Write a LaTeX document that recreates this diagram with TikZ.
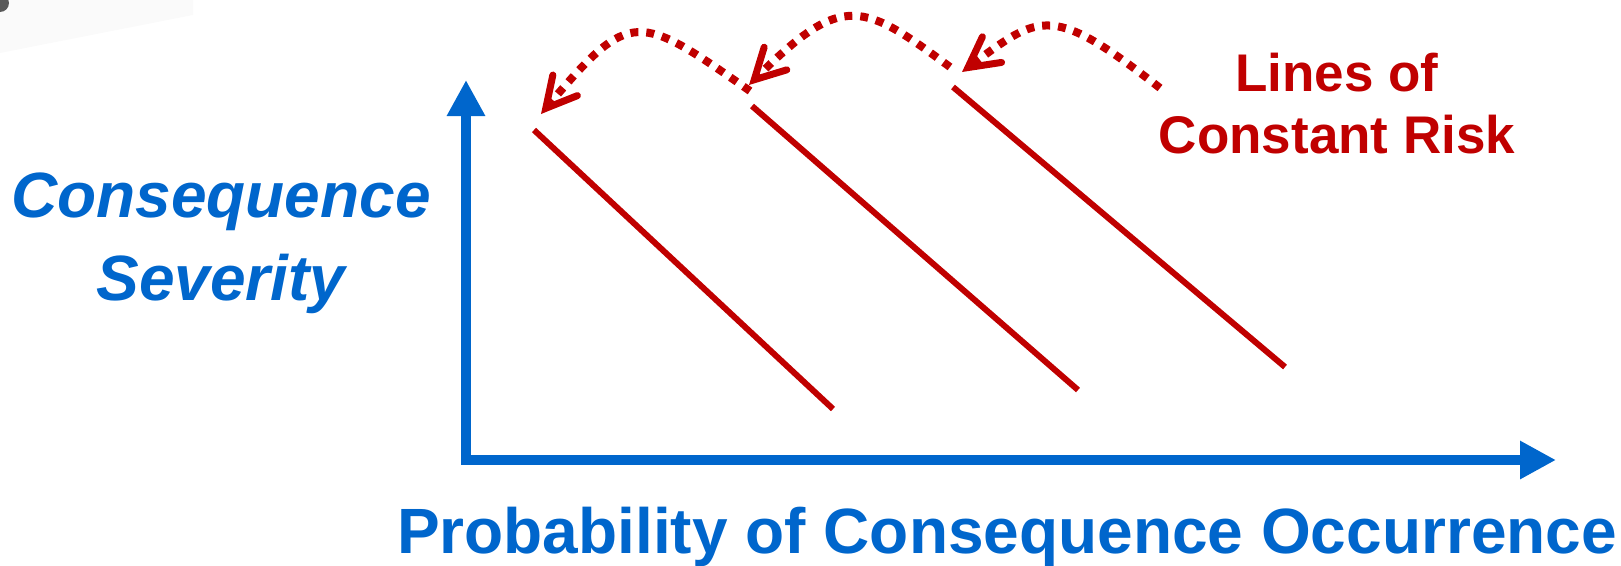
\documentclass[tikz,border=0pt]{standalone}
\usepackage{fontspec}
\setmainfont{Liberation Sans}
\usetikzlibrary{arrows.meta}
\definecolor{axisblue}{HTML}{0066CC}
\definecolor{riskred}{HTML}{C00000}
\begin{document}
\begin{tikzpicture}[x=1pt,y=-1pt,
  axislabel/.style={anchor=base, inner sep=0pt, text=axisblue, font=\fontsize{64}{77}\selectfont\bfseries},
  risklabel/.style={anchor=base, inner sep=0pt, text=riskred, font=\fontsize{53}{64}\selectfont\bfseries},
  axisline/.style={draw=axisblue, line width=10.5pt, line join=miter, {Triangle[length=36pt,width=36pt]}-{Triangle[length=36pt,width=36pt]}},
  riskline/.style={draw=riskred, line width=6pt},
  shiftarrow/.style={draw=riskred, line width=8pt, dash pattern=on 8pt off 8pt, -{Straight Barb[length=30pt,width=32pt,line width=7pt,line cap=round]}}]
\useasboundingbox (0,0) rectangle (1621,565);
% faint screenshot artefact in the corner
\fill[black!2] (0,0) -- (193,0) -- (193,15) -- (0,53) -- cycle;
\fill[black!65] (0,3) circle (9);
% axes
\coordinate (ytip) at (466,80);
\coordinate (origin) at (466,460);
\coordinate (xtip) at (1556,460);
\draw[axisline] (ytip) -- (origin) -- (xtip);
% lines of constant risk
\coordinate (a1) at (534,130); \coordinate (b1) at (833,409);
\coordinate (a2) at (752,106); \coordinate (b2) at (1078,390);
\coordinate (a3) at (953,87);  \coordinate (b3) at (1285,367);
\draw[riskline] (a1) -- (b1);
\draw[riskline] (a2) -- (b2);
\draw[riskline] (a3) -- (b3);
% dotted shift arrows
\coordinate (s1) at (750,91);  \coordinate (t1) at (541,114);
\coordinate (s2) at (950,67);  \coordinate (t2) at (749,85);
\coordinate (s3) at (1160,88); \coordinate (t3) at (962,72);
\draw[shiftarrow] (s1) .. controls (638,13) and (631,7) .. (t1);
\draw[shiftarrow] (s2) .. controls (863,3) and (843,-9) .. (t2);
\draw[shiftarrow] (s3) .. controls (1052,4) and (1041,13) .. (t3);
% labels
\node[axislabel, font=\fontsize{64}{77}\selectfont\bfseries\itshape] (cons) at (221,217) {Consequence};
\node[axislabel, font=\fontsize{64}{77}\selectfont\bfseries\itshape] (sev) at (221,300) {Severity};
\node[axislabel] (prob) at (1007,553) {Probability of Consequence Occurrence};
\node[risklabel] (lines) at (1337,91) {Lines of};
\node[risklabel] (const) at (1337,153) {Constant Risk};
\end{tikzpicture}
\end{document}
